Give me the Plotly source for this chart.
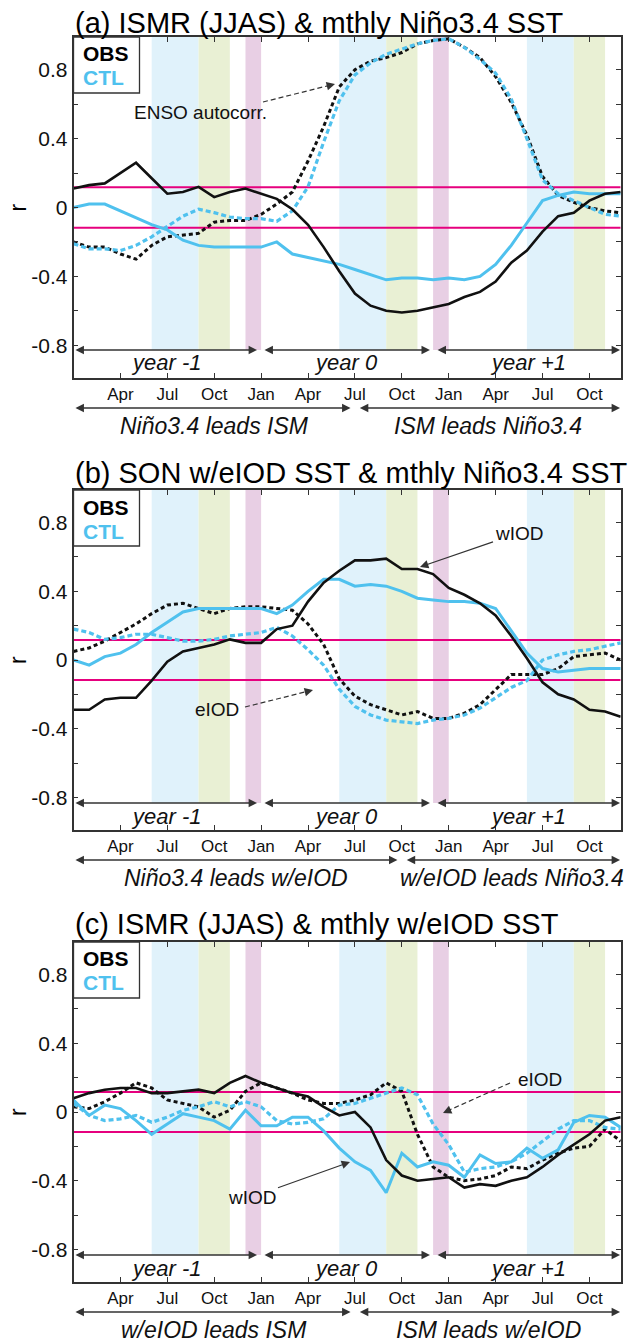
import plotly.graph_objects as go

W, H = 634, 1342
FONT = "Liberation Sans, Arial, sans-serif"

months = list(range(36))  # Jan year -1 ... Dec year +1
tick_pos = [3, 6, 9, 12, 15, 18, 21, 24, 27, 30, 33]
tick_lab = ["Apr", "Jul", "Oct", "Jan", "Apr", "Jul", "Oct", "Jan", "Apr", "Jul", "Oct"]
ytick_vals = [-0.8, -0.6, -0.4, -0.2, 0, 0.2, 0.4, 0.6, 0.8]
ytick_text = ["-0.8", "", "-0.4", "", "0", "", "0.4", "", "0.8"]
sig_level = 0.117

band_jjas = [(5, 8), (17, 20), (29, 32)]
band_son = [(8, 10), (20, 22), (32, 34)]
band_dj = [(11, 12), (23, 24)]

# ---- panel (a) ----
a_obs = [0.11, 0.13, 0.14, 0.20, 0.26, 0.17, 0.08, 0.09, 0.12, 0.06, 0.09, 0.11,
         0.08, 0.05, -0.01, -0.10, -0.23, -0.37, -0.50, -0.57, -0.60, -0.61, -0.60, -0.58,
         -0.56, -0.52, -0.49, -0.43, -0.32, -0.25, -0.14, -0.05, -0.03, 0.04, 0.08, 0.09]
a_obs_enso = [-0.20, -0.23, -0.23, -0.27, -0.30, -0.22, -0.17, -0.16, -0.15, -0.085, -0.075, -0.075,
              -0.04, 0.02, 0.09, 0.27, 0.47, 0.70, 0.80, 0.85, 0.87, 0.90, 0.95, 0.97,
              0.98, 0.93, 0.87, 0.76, 0.61, 0.42, 0.18, 0.07, 0.03, 0.0, -0.02, -0.03]
a_ctl = [0.0, 0.02, 0.02, -0.02, -0.06, -0.10, -0.13, -0.19, -0.22, -0.23, -0.23, -0.23,
         -0.23, -0.20, -0.27, -0.29, -0.31, -0.33, -0.36, -0.39, -0.42, -0.41, -0.41, -0.42,
         -0.41, -0.42, -0.40, -0.33, -0.22, -0.09, 0.04, 0.07, 0.09, 0.08, 0.08, 0.08]
a_ctl_enso = [-0.21, -0.24, -0.24, -0.25, -0.22, -0.17, -0.11, -0.05, -0.01, -0.03, -0.055, -0.065,
              -0.065, -0.08, -0.02, 0.12, 0.38, 0.62, 0.77, 0.84, 0.89, 0.92, 0.95, 0.97,
              0.98, 0.93, 0.86, 0.78, 0.63, 0.40, 0.16, 0.08, 0.04, 0.0, -0.04, -0.05]

# ---- panel (b) ----
b_obs = [-0.29, -0.29, -0.23, -0.22, -0.22, -0.12, -0.01, 0.05, 0.07, 0.09, 0.12, 0.10,
         0.10, 0.18, 0.20, 0.34, 0.45, 0.52, 0.58, 0.58, 0.59, 0.53, 0.53, 0.50,
         0.42, 0.38, 0.33, 0.26, 0.14, 0.01, -0.13, -0.20, -0.23, -0.29, -0.30, -0.33]
b_obs_e = [0.05, 0.07, 0.11, 0.16, 0.21, 0.27, 0.32, 0.33, 0.30, 0.27, 0.30, 0.31,
           0.31, 0.30, 0.29, 0.21, 0.09, -0.11, -0.21, -0.26, -0.29, -0.32, -0.30, -0.34,
           -0.34, -0.31, -0.26, -0.17, -0.085, -0.085, -0.085, -0.05, 0.02, 0.03, 0.04, 0.0]
b_ctl = [0.0, -0.03, 0.02, 0.04, 0.09, 0.16, 0.22, 0.28, 0.30, 0.30, 0.30, 0.30,
         0.30, 0.27, 0.32, 0.40, 0.47, 0.47, 0.43, 0.44, 0.43, 0.40, 0.36, 0.35,
         0.34, 0.34, 0.33, 0.30, 0.17, 0.04, -0.05, -0.07, -0.06, -0.05, -0.05, -0.05]
b_ctl_e = [0.18, 0.16, 0.12, 0.13, 0.15, 0.15, 0.13, 0.11, 0.11, 0.12, 0.14, 0.15,
           0.16, 0.19, 0.14, 0.06, -0.03, -0.17, -0.27, -0.32, -0.35, -0.36, -0.37, -0.35,
           -0.34, -0.32, -0.28, -0.22, -0.16, -0.12, 0.0, 0.03, 0.05, 0.06, 0.08, 0.10]

# ---- panel (c) ----
c_obs = [0.08, 0.11, 0.13, 0.14, 0.14, 0.11, 0.11, 0.12, 0.13, 0.11, 0.17, 0.21,
         0.17, 0.14, 0.11, 0.09, 0.03, -0.02, 0.0, -0.09, -0.28, -0.37, -0.40, -0.39,
         -0.38, -0.44, -0.42, -0.43, -0.40, -0.38, -0.32, -0.25, -0.19, -0.13, -0.05, -0.03]
c_obs_e = [0.03, 0.02, 0.06, 0.11, 0.17, 0.14, 0.07, 0.05, 0.03, -0.03, 0.01, 0.12,
           0.17, 0.14, 0.11, 0.07, 0.05, 0.05, 0.07, 0.10, 0.17, 0.12, -0.13, -0.32,
           -0.38, -0.40, -0.39, -0.37, -0.32, -0.33, -0.28, -0.24, -0.21, -0.20, -0.10, -0.17]
c_ctl = [0.07, -0.02, 0.04, 0.02, -0.05, -0.13, -0.07, -0.01, -0.03, -0.05, -0.10, 0.01,
         -0.08, -0.08, -0.03, -0.03, -0.11, -0.21, -0.29, -0.34, -0.47, -0.24, -0.32, -0.29,
         -0.31, -0.38, -0.25, -0.30, -0.29, -0.21, -0.27, -0.22, -0.06, -0.02, -0.03, -0.09]
c_ctl_e = [0.05, -0.02, -0.05, -0.04, -0.02, -0.06, -0.03, 0.01, 0.03, 0.06, 0.03, 0.06,
           0.03, -0.05, -0.07, -0.06, -0.04, 0.04, 0.05, 0.08, 0.11, 0.14, 0.10, -0.07,
           -0.19, -0.35, -0.33, -0.32, -0.29, -0.24, -0.17, -0.10, -0.05, -0.05, -0.09, -0.10]

titles = ["(a) ISMR (JJAS) & mthly Niño3.4 SST",
          "(b) SON w/eIOD SST & mthly Niño3.4 SST",
          "(c) ISMR (JJAS) & mthly w/eIOD SST"]
year_labels = ["year -1", "year 0", "year +1"]
lead_labels = [("Niño3.4 leads ISM", "ISM leads Niño3.4"),
               ("Niño3.4 leads w/eIOD", "w/eIOD leads Niño3.4"),
               ("w/eIOD leads ISM", "ISM leads w/eIOD")]
lead_split = [18, 21, 18]

panels = [(a_obs, a_obs_enso, a_ctl, a_ctl_enso),
          (b_obs, b_obs_e, b_ctl, b_ctl_e),
          (c_obs, c_obs_e, c_ctl, c_ctl_e)]

# ---- styling / layout geometry (pixels) ----
BLACK = "#111111"
BLUE = "#4fc1ee"
MAG = "#e6007e"
AX = "#333333"
C_BLUE = "rgb(224,242,251)"
C_GREEN = "rgb(233,240,212)"
C_PINK = "rgb(232,207,228)"

X0PX, X1PX = 73.5, 620.7
tops = [37, 490, 942]
bots = [378, 830, 1282]
YR = 0.99
MPX = (X1PX - X0PX) / 35.0


def px2x(px):
    return (px - X0PX) / MPX


def px2y(i, py):
    yc = (tops[i] + bots[i]) / 2.0
    s = (bots[i] - tops[i]) / (2 * YR)
    return (yc - py) / s


def py2paper(py):
    return 1 - py / H


fig = go.Figure()
shapes = []
annots = []

for i, (obs, obs_d, ctl, ctl_d) in enumerate(panels):
    xa = "x" if i == 0 else f"x{i+1}"
    ya = "y" if i == 0 else f"y{i+1}"
    fig.add_trace(go.Scatter(x=months, y=obs_d, mode="lines", xaxis=xa, yaxis=ya,
                             line=dict(color=BLACK, width=3, dash="4px,3px"), showlegend=False))
    fig.add_trace(go.Scatter(x=months, y=ctl_d, mode="lines", xaxis=xa, yaxis=ya,
                             line=dict(color=BLUE, width=3.2, dash="5px,3px"), showlegend=False))
    fig.add_trace(go.Scatter(x=months, y=ctl, mode="lines", xaxis=xa, yaxis=ya,
                             line=dict(color=BLUE, width=3), showlegend=False))
    fig.add_trace(go.Scatter(x=months, y=obs, mode="lines", xaxis=xa, yaxis=ya,
                             line=dict(color=BLACK, width=2.6), showlegend=False))

    ybot = px2y(i, tops[i] + (350 - 37))  # bottom of shading bands
    for blist, col in ((band_jjas, C_BLUE), (band_son, C_GREEN), (band_dj, C_PINK)):
        for (b0, b1) in blist:
            shapes.append(dict(type="rect", xref=xa, yref=ya, x0=b0, x1=b1, y0=ybot, y1=YR,
                               fillcolor=col, line=dict(width=0), layer="below"))
    for sv in (sig_level, -sig_level):
        shapes.append(dict(type="line", xref=xa, yref=ya, x0=0, x1=35, y0=sv, y1=sv,
                           line=dict(color=MAG, width=2), layer="below"))

    # legend box
    ph = bots[i] - tops[i]
    shapes.append(dict(type="rect", xref=f"{xa} domain", yref=f"{ya} domain",
                       x0=0, x1=66 / (X1PX - X0PX), y0=1 - 56 / ph, y1=1,
                       fillcolor="white", line=dict(color=AX, width=1.3), layer="above"))
    annots.append(dict(xref=f"{xa} domain", yref=f"{ya} domain", x=7 / (X1PX - X0PX),
                       y=1 - 17 / ph, xanchor="left", yanchor="middle",
                       text="<b>OBS</b>", showarrow=False,
                       font=dict(family=FONT, size=21, color="black")))
    annots.append(dict(xref=f"{xa} domain", yref=f"{ya} domain", x=7 / (X1PX - X0PX),
                       y=1 - 41 / ph, xanchor="left", yanchor="middle",
                       text="<b>CTL</b>", showarrow=False,
                       font=dict(family=FONT, size=21, color=BLUE)))

    # title
    title_py = [23, 473, 924][i]
    annots.append(dict(xref="paper", yref="paper", x=73 / W, y=py2paper(title_py),
                       xanchor="left", yanchor="middle", text=titles[i], showarrow=False,
                       font=dict(family=FONT, size=29, color="black")))
    # r label
    annots.append(dict(xref="paper", yref=ya, x=18 / W, y=0, xanchor="center", yanchor="middle",
                       text="r", textangle=-90, showarrow=False,
                       font=dict(family=FONT, size=23, color="black")))

    # year arrows (inside plot, bottom strip)
    yarr = px2y(i, tops[i] + (350 - 37))
    ytxt = px2y(i, tops[i] + (363 - 37))
    segs = [(0.03, 11.74), (12.12, 22.80), (23.19, 34.96)]
    for (s0, s1), lab in zip(segs, year_labels):
        annots.append(dict(xref=xa, yref=ya, axref=xa, ayref=ya, x=s1, y=yarr, ax=s0, ay=yarr,
                           text="", showarrow=True, arrowhead=2, arrowside="end+start",
                           arrowsize=1.3, arrowwidth=1.3, arrowcolor=AX, standoff=0, startstandoff=0))
        annots.append(dict(xref=xa, yref=ya, x=(s0 + s1) / 2, y=ytxt, text=f"<i>{lab}</i>",
                           showarrow=False, xanchor="center", yanchor="middle",
                           font=dict(family=FONT, size=22, color=BLACK)))

    # lead arrows below axes (paper y)
    ylead = py2paper(bots[i] + (408 - 378))
    yltxt = py2paper(bots[i] + (426 - 378))
    sp = lead_split[i]
    lsegs = [(0.03, sp - 0.28), (sp + 0.22, 34.96)]
    for (s0, s1) in lsegs:
        annots.append(dict(xref=xa, yref="paper", axref="pixel", ayref="pixel",
                           x=s1, y=ylead, ax=-(s1 - s0) * MPX, ay=0,
                           text="", showarrow=True, arrowhead=2, arrowside="end+start",
                           arrowsize=1.3, arrowwidth=1.3, arrowcolor=AX, standoff=0, startstandoff=0))
    ltx = [(214, 488), (236, 512), (214, 488)][i]
    for cx, lab in zip(ltx, lead_labels[i]):
        annots.append(dict(xref=xa, yref="paper", x=px2x(cx), y=yltxt, text=f"<i>{lab}</i>",
                           showarrow=False, xanchor="center", yanchor="middle",
                           font=dict(family=FONT, size=23, color=BLACK)))

    dom_y = [1 - bots[i] / H, 1 - tops[i] / H]
    axis_common = dict(showline=True, linecolor=AX, linewidth=1.5, mirror="ticks",
                       ticks="inside", ticklen=5, tickwidth=1.2, tickcolor=AX,
                       showgrid=False, zeroline=False)
    fig.layout[("xaxis" if i == 0 else f"xaxis{i+1}")] = dict(
        domain=[X0PX / W, X1PX / W], range=[0, 35], anchor=ya,
        tickmode="array", tickvals=tick_pos, ticktext=tick_lab,
        tickfont=dict(family=FONT, size=17, color=BLACK), **axis_common)
    fig.layout[("yaxis" if i == 0 else f"yaxis{i+1}")] = dict(
        domain=dom_y, range=[-YR, YR], anchor=xa,
        tickmode="array", tickvals=ytick_vals, ticktext=ytick_text,
        tickfont=dict(family=FONT, size=21, color=BLACK), **axis_common)

NOTE = dict(family=FONT, size=19, color=BLACK)

# (a) ENSO autocorr. (dashed arrow)
shapes.append(dict(type="line", xref="x", yref="y", x0=px2x(263), y0=px2y(0, 102),
                   x1=px2x(333), y1=px2y(0, 84.5), line=dict(color=AX, width=1.2, dash="5px,3px")))
annots.append(dict(xref="x", yref="y", x=px2x(335), y=px2y(0, 84), ax=-9.7, ay=2.5,
                   text="", showarrow=True, arrowhead=2, arrowsize=1.4, arrowwidth=1.2,
                   arrowcolor=AX, standoff=0))
annots.append(dict(xref="x", yref="y", x=px2x(200), y=px2y(0, 113), text="ENSO autocorr.",
                   showarrow=False, font=NOTE))

# (b) wIOD (solid arrow)
annots.append(dict(xref="x2", yref="y2", axref="x2", ayref="y2", x=px2x(420), y=px2y(1, 567),
                   ax=px2x(519), ay=px2y(1, 533), text="wIOD", showarrow=True, arrowhead=2,
                   arrowsize=1.4, arrowwidth=1.2, arrowcolor=AX, standoff=0, font=NOTE))
# (b) eIOD (dashed arrow)
shapes.append(dict(type="line", xref="x2", yref="y2", x0=px2x(245), y0=px2y(1, 707),
                   x1=px2x(311), y1=px2y(1, 690.5), line=dict(color=AX, width=1.2, dash="5px,3px")))
annots.append(dict(xref="x2", yref="y2", x=px2x(313), y=px2y(1, 690), ax=-9.7, ay=2.5,
                   text="", showarrow=True, arrowhead=2, arrowsize=1.4, arrowwidth=1.2,
                   arrowcolor=AX, standoff=0))
annots.append(dict(xref="x2", yref="y2", x=px2x(217), y=px2y(1, 709), text="eIOD",
                   showarrow=False, font=NOTE))

# (c) eIOD (dashed arrow)
shapes.append(dict(type="line", xref="x3", yref="y3", x0=px2x(510), y0=px2y(2, 1083),
                   x1=px2x(445), y1=px2y(2, 1112), line=dict(color=AX, width=1.2, dash="5px,3px")))
annots.append(dict(xref="x3", yref="y3", x=px2x(443), y=px2y(2, 1113), ax=9.1, ay=-4.1,
                   text="", showarrow=True, arrowhead=2, arrowsize=1.4, arrowwidth=1.2,
                   arrowcolor=AX, standoff=0))
annots.append(dict(xref="x3", yref="y3", x=px2x(540), y=px2y(2, 1079), text="eIOD",
                   showarrow=False, font=NOTE))
# (c) wIOD (solid arrow)
annots.append(dict(xref="x3", yref="y3", axref="x3", ayref="y3", x=px2x(350), y=px2y(2, 1162),
                   ax=px2x(252), ay=px2y(2, 1197), text="wIOD", showarrow=True, arrowhead=2,
                   arrowsize=1.4, arrowwidth=1.2, arrowcolor=AX, standoff=0, font=NOTE))

fig.update_layout(width=W, height=H, margin=dict(l=0, r=0, t=0, b=0),
                  paper_bgcolor="white", plot_bgcolor="white",
                  shapes=shapes, annotations=annots, showlegend=False)

fig.write_html("out.html", config={"displayModeBar": False},
               post_script="document.body.style.margin='0px';")
